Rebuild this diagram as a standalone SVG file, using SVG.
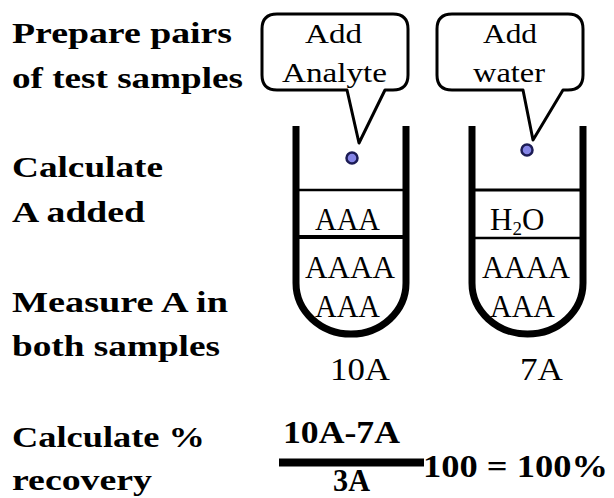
<svg xmlns="http://www.w3.org/2000/svg" width="614" height="498" viewBox="0 0 614 498">
<style>
.lbl{font-family:"Liberation Serif","Times New Roman",serif;font-weight:bold;font-size:30px;fill:#000}
.txt{font-family:"Liberation Serif","Times New Roman",serif;font-size:31px;fill:#000}
.call{font-family:"Liberation Serif","Times New Roman",serif;font-size:27px;fill:#000}
.bub{fill:#fff;stroke:#000;stroke-width:3;stroke-linejoin:round}
.tube{fill:none;stroke:#000;stroke-width:7}
.lvl{stroke:#000}
.dot{fill:#8585e6;stroke:#1c1c55;stroke-width:2.5}
.frm{font-family:"Liberation Serif","Times New Roman",serif;font-weight:bold;font-size:31px;fill:#000}
</style>
<rect width="614" height="498" fill="#fff"/>
<g id="labels">
<text class="lbl" x="12" y="43" textLength="220" lengthAdjust="spacingAndGlyphs">Prepare pairs</text>
<text class="lbl" x="12" y="88" textLength="231" lengthAdjust="spacingAndGlyphs">of test samples</text>
<text class="lbl" x="12" y="177" textLength="151" lengthAdjust="spacingAndGlyphs">Calculate</text>
<text class="lbl" x="12" y="222" textLength="133" lengthAdjust="spacingAndGlyphs">A added</text>
<text class="lbl" x="12" y="312" textLength="216" lengthAdjust="spacingAndGlyphs">Measure A in</text>
<text class="lbl" x="12" y="356" textLength="208" lengthAdjust="spacingAndGlyphs">both samples</text>
<text class="lbl" x="12" y="447" textLength="193" lengthAdjust="spacingAndGlyphs">Calculate %</text>
<text class="lbl" x="12" y="490" textLength="140" lengthAdjust="spacingAndGlyphs">recovery</text>
</g>
<g id="callout-analyte">
<path class="bub" d="M347,90 L277,90 Q262,90 262,75 L262,29 Q262,14 277,14 L393,14 Q408,14 408,29 L408,75 Q408,90 393,90 L385,90 L359,143 Z"/>
<text class="call" x="305" y="43" textLength="57" lengthAdjust="spacingAndGlyphs">Add</text>
<text class="call" x="282" y="82" textLength="105" lengthAdjust="spacingAndGlyphs">Analyte</text>
</g>
<g id="callout-water">
<path class="bub" d="M523,90 L452,90 Q437,90 437,75 L437,29 Q437,14 452,14 L568,14 Q583,14 583,29 L583,75 Q583,90 568,90 L563,90 L533,140 Z"/>
<text class="call" x="483" y="43" textLength="54" lengthAdjust="spacingAndGlyphs">Add</text>
<text class="call" x="473" y="82" textLength="72" lengthAdjust="spacingAndGlyphs">water</text>
</g>
<g id="tube-analyte">
<line class="lvl" x1="296" y1="190" x2="406" y2="190" stroke-width="2.5"/>
<line class="lvl" x1="296" y1="237" x2="406" y2="237" stroke-width="4"/>
<path class="tube" d="M296,126 L296,283 A55,51 0 0 0 406,283 L406,126"/>
<circle class="dot" cx="352" cy="158" r="5.5"/>
<text class="txt" x="315" y="230" textLength="65" lengthAdjust="spacingAndGlyphs">AAA</text>
<text class="txt" x="305" y="278" textLength="90" lengthAdjust="spacingAndGlyphs">AAAA</text>
<text class="txt" x="315" y="317" textLength="65" lengthAdjust="spacingAndGlyphs">AAA</text>
<text class="txt" x="330" y="380" font-size="33" textLength="60" lengthAdjust="spacingAndGlyphs">10A</text>
</g>
<g id="tube-water">
<line class="lvl" x1="472" y1="190" x2="583" y2="190" stroke-width="3"/>
<line class="lvl" x1="472" y1="238" x2="583" y2="238" stroke-width="2.5"/>
<path class="tube" d="M472,126 L472,283 A55.5,51 0 0 0 583,283 L583,126"/>
<circle class="dot" cx="527" cy="150" r="5.5"/>
<text class="txt" x="490" y="230">H<tspan font-size="19" dy="5">2</tspan><tspan dy="-5">O</tspan></text>
<text class="txt" x="482" y="278" textLength="88" lengthAdjust="spacingAndGlyphs">AAAA</text>
<text class="txt" x="490" y="317" textLength="65" lengthAdjust="spacingAndGlyphs">AAA</text>
<text class="txt" x="520" y="380" font-size="33" textLength="43" lengthAdjust="spacingAndGlyphs">7A</text>
</g>
<g id="formula">
<text class="frm" x="283" y="443" font-size="28" textLength="117" lengthAdjust="spacingAndGlyphs">10A-7A</text>
<rect x="279" y="458.5" width="145" height="8" fill="#000"/>
<text class="frm" x="423" y="477" font-size="32" textLength="185" lengthAdjust="spacingAndGlyphs">100 = 100%</text>
<text class="frm" x="333" y="491" font-size="23" textLength="37" lengthAdjust="spacingAndGlyphs">3A</text>
</g>
</svg>
